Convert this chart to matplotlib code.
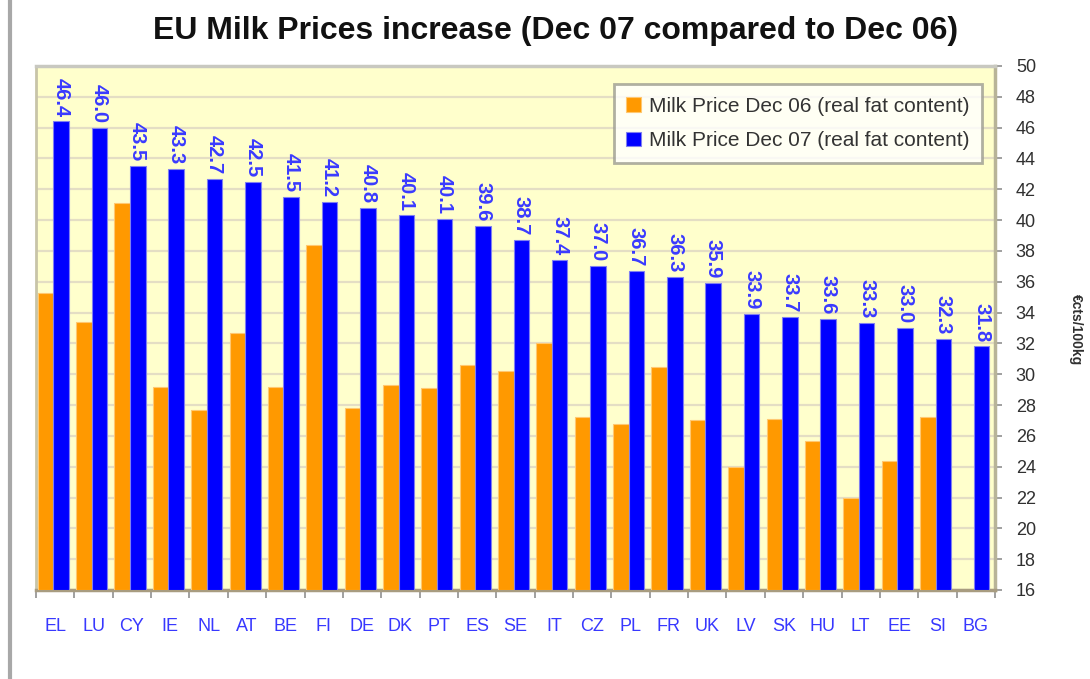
import matplotlib
matplotlib.use("Agg")
import matplotlib.pyplot as plt
from matplotlib.lines import Line2D
import numpy as np

countries = ["EL", "LU", "CY", "IE", "NL", "AT", "BE", "FI", "DE", "DK", "PT", "ES", "SE",
             "IT", "CZ", "PL", "FR", "UK", "LV", "SK", "HU", "LT", "EE", "SI", "BG"]
dec06 = [35.3, 33.4, 41.1, 29.2, 27.7, 32.7, 29.2, 38.4, 27.8, 29.3, 29.1, 30.6, 30.2,
         32.0, 27.2, 26.8, 30.5, 27.0, 24.0, 27.1, 25.7, 22.0, 24.4, 27.2, 0.0]
dec07 = [46.4, 46.0, 43.5, 43.3, 42.7, 42.5, 41.5, 41.2, 40.8, 40.3, 40.1, 39.6, 38.7,
         37.4, 37.0, 36.7, 36.3, 35.9, 33.9, 33.7, 33.6, 33.3, 33.0, 32.3, 31.8]
label07 = ["46.4", "46.0", "43.5", "43.3", "42.7", "42.5", "41.5", "41.2", "40.8", "40.1",
           "40.1", "39.6", "38.7", "37.4", "37.0", "36.7", "36.3", "35.9", "33.9", "33.7",
           "33.6", "33.3", "33.0", "32.3", "31.8"]
yticks = list(range(16, 51, 2))

FONT = ["Liberation Sans", "DejaVu Sans"]
plt.rcParams["font.family"] = FONT

fig = plt.figure(figsize=(10.9, 6.79), dpi=100)
fig.patch.set_facecolor("white")
ax = fig.add_axes([36 / 1090, 89 / 679, 959 / 1090, 524 / 679])
ax.set_facecolor("#FFFFCC")

x = np.arange(len(countries))
w = 0.405
b06 = [v if v > 0 else np.nan for v in dec06]
ax.bar(x - w / 2 - 0.05, np.array(b06) - 16, w, bottom=16, color="#FF9900",
       edgecolor="#FFC870", linewidth=0.8, label="Milk Price Dec 06 (real fat content)", zorder=3)
ax.bar(x + w / 2 - 0.05, np.array(dec07) - 16, w, bottom=16, color="#0000FF",
       edgecolor="#8080F0", linewidth=0.8, label="Milk Price Dec 07 (real fat content)", zorder=3)

for xi, v, s in zip(x, dec07, label07):
    ax.text(xi + w / 2 - 0.05, v + 0.3, s, rotation=270, ha="center", va="bottom",
            color="#3A3AFF", fontsize=14.5, fontweight="bold", zorder=4)

ax.set_xlim(-0.5, len(countries) - 0.5)
ax.set_ylim(16, 50)
ax.set_yticks(yticks)
ax.yaxis.tick_right()
ax.tick_params(axis="y", which="major", direction="out", length=5, width=1.2,
               color="#909090", labelsize=13, labelcolor="#303030", pad=10)

ax.set_xticks(x)
ax.set_xticklabels(countries, fontsize=13, color="#3838FF")
ax.set_xticks(np.arange(-0.5, len(countries), 1), minor=True)
ax.tick_params(axis="x", which="major", length=0, pad=20)
ax.tick_params(axis="x", which="minor", direction="out", length=6, width=1.2, color="#909090")

ax.grid(axis="y", color="#E4DEC4", linewidth=1.6, zorder=0)
ax.set_axisbelow(True)

ax.spines["top"].set_color("#C8C8C0")
ax.spines["top"].set_linewidth(2.5)
ax.spines["left"].set_color("#C8C4A8")
ax.spines["left"].set_linewidth(2)
ax.spines["right"].set_color("#B8B498")
ax.spines["right"].set_linewidth(2.5)
ax.spines["bottom"].set_color("#A89C80")
ax.spines["bottom"].set_linewidth(2.5)

leg = ax.legend(loc="upper right", bbox_to_anchor=(982 / 1090, 595 / 679),
                bbox_transform=fig.transFigure, frameon=True, fancybox=False,
                prop={"size": 15}, handlelength=0.7, handleheight=0.7,
                handletextpad=0.4, borderpad=0.6, labelspacing=0.75, borderaxespad=0)
leg.get_frame().set_edgecolor("#9C9C90")
leg.get_frame().set_linewidth(2)
leg.get_frame().set_facecolor("white")
for t in leg.get_texts():
    t.set_color("#333333")

fig.text(556 / 1090, 1 - 31 / 679, "EU Milk Prices increase (Dec 07 compared to Dec 06)",
         ha="center", va="center", fontsize=23, fontweight="bold", color="#111111")
fig.text(1076 / 1090, 1 - 330 / 679, "€cts/100kg", rotation=270, ha="center", va="center",
         fontsize=10, fontweight="bold", color="#303030")

fig.add_artist(Line2D([10 / 1090, 10 / 1090], [0, 1], transform=fig.transFigure,
                      color="#A8A8A8", linewidth=3))

fig.savefig("out.png", dpi=100)
